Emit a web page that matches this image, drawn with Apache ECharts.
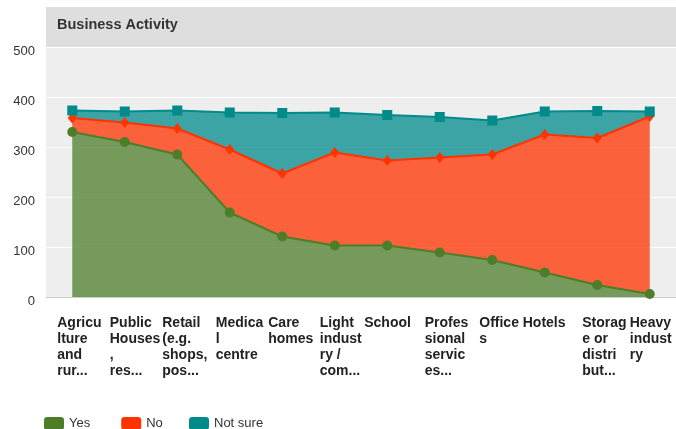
<!DOCTYPE html>
<html>
<head>
<meta charset="utf-8">
<script src="https://cdn.jsdelivr.net/npm/echarts@6.0.0/dist/echarts.min.js"></script>
<style>
  html, body { margin: 0; padding: 0; background: #fff; }
  #chart { width: 676px; height: 429px; }
</style>
</head>
<body>
<div id="chart"></div>
<script>
// ── data ──
const categories = [
    'Agricu\nlture\nand\nrur...',
    'Public\nHouses\n,\nres...',
    'Retail\n(e.g.\nshops,\npos...',
    'Medica\nl\ncentre',
    'Care\nhomes',
    'Light\nindust\nry /\ncom...',
    'School',
    'Profes\nsional\nservic\nes...',
    'Office\ns',
    'Hotels',
    'Storag\ne or\ndistri\nbut...',
    'Heavy\nindust\nry'
];
const yesValues = [330, 310, 285, 169, 121, 103, 103, 89, 74, 49, 24, 6];
const noValues = [28, 39, 52, 126, 126, 186, 170, 190, 211, 276, 294, 355];
const notSureValues = [15, 22, 36, 74, 121, 80, 91, 81, 68, 46, 54, 10];
const yTicks = [0, 100, 200, 300, 400, 500];

// where each x label starts, relative to its tick (px)
const labelOffset = [-15, -15, -15, -14, -14, -15, -23, -15, -13, -22, -15, -20];

const FONT = '"Liberation Sans", Arial, sans-serif';

const chart = echarts.init(document.getElementById('chart'), null, { renderer: 'canvas' });

const legendBase = {
    top: 417, padding: 0,
    itemWidth: 20, itemHeight: 13, itemGap: 31,
    icon: 'roundRect',
    textStyle: { fontSize: 13, color: '#333', fontFamily: FONT }
};

chart.setOption({
    animation: false,
    backgroundColor: '#fff',
    title: {
        text: 'Business Activity',
        left: 52, top: 12,
        textStyle: { fontSize: 14.5, fontWeight: 'bold', color: '#333', fontFamily: FONT }
    },
    graphic: [{
        type: 'rect', z: -10, silent: true,
        shape: { x: 46, y: 7, width: 630, height: 40 },
        style: { fill: '#dedede' }
    }],
    legend: [
        Object.assign({}, legendBase, { left: 44, data: ['Yes', 'No'] }),
        Object.assign({}, legendBase, { left: 189, data: ['Not sure'] })
    ],
    grid: {
        left: 46, right: 0, top: 47, height: 250,
        show: true, backgroundColor: '#eeeeee', borderWidth: 0
    },
    xAxis: {
        type: 'category',
        data: categories.map((c, i) => ({
            value: c,
            textStyle: { align: 'left', padding: [0, 0, 0, labelOffset[i]] }
        })),
        boundaryGap: true,
        axisLine: { lineStyle: { color: '#cccccc', width: 1 } },
        axisTick: { show: false },
        axisLabel: {
            interval: 0, margin: 18, align: 'left',
            fontSize: 14, fontWeight: 'bold', lineHeight: 16,
            color: '#222', fontFamily: FONT
        }
    },
    yAxis: {
        type: 'value',
        min: yTicks[0], max: yTicks[yTicks.length - 1], interval: 100,
        axisLine: { show: false },
        axisTick: { show: false },
        splitLine: { lineStyle: { color: '#ffffff', width: 1 } },
        axisLabel: {
            margin: 11, fontSize: 13, color: '#333', fontFamily: FONT,
            verticalAlign: 'top', lineHeight: 8
        }
    },
    series: [
        {
            name: 'Yes', type: 'line', stack: 'total', data: yesValues,
            symbol: 'circle', symbolSize: 10,
            itemStyle: { color: '#4e7d29' },
            lineStyle: { width: 2, color: '#4e7d29' },
            areaStyle: { color: '#4e7d29', opacity: 0.75 }
        },
        {
            name: 'No', type: 'line', stack: 'total', data: noValues,
            symbol: 'diamond', symbolSize: [9, 11],
            itemStyle: { color: '#ff3300' },
            lineStyle: { width: 2, color: '#ff3300' },
            areaStyle: { color: '#ff3300', opacity: 0.75 }
        },
        {
            name: 'Not sure', type: 'line', stack: 'total', data: notSureValues,
            symbol: 'rect', symbolSize: 10,
            itemStyle: { color: '#008b8b' },
            lineStyle: { width: 2, color: '#008b8b' },
            areaStyle: { color: '#008b8b', opacity: 0.75 }
        }
    ]
});
</script>
</body>
</html>
